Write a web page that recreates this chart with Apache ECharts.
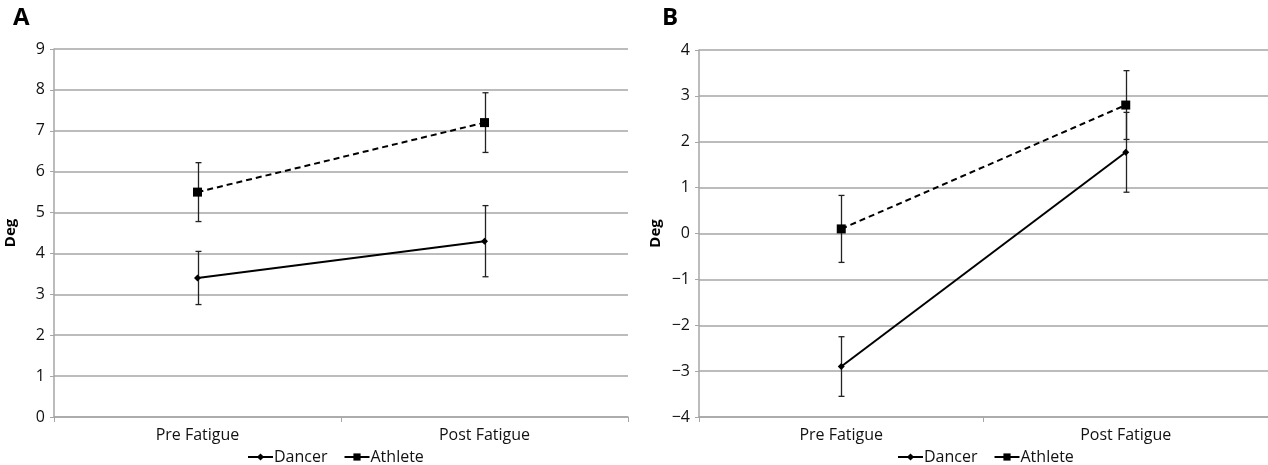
<!DOCTYPE html>
<html>
<head>
<meta charset="utf-8">
<script src="https://cdn.jsdelivr.net/npm/echarts@6/dist/echarts.min.js"></script>
<style>
  html, body { margin: 0; padding: 0; background: #fff; }
  #chart { width: 1268px; height: 465px; }
</style>
</head>
<body>
<div id="chart"></div>
<script>
const categories = ['Pre Fatigue', 'Post Fatigue']

// Panel A
const dancerA = [3.4, 4.3]
const dancerErrA = [0.65, 0.87]
const athleteA = [5.5, 7.2]
const athleteErrA = [0.72, 0.73]

// Panel B
const dancerB = [-2.9, 1.77]
const dancerErrB = [0.65, 0.87]
const athleteB = [0.1, 2.8]
const athleteErrB = [0.73, 0.75]

const font = "'Open Sans', 'Noto Sans', sans-serif"
const gridColor = '#a6a6a6'

function errorData(values, errs) {
  return values.map((v, i) => [i, v - errs[i], v + errs[i]])
}

function errorSeries(values, errs, axisIndex) {
  return {
    type: 'custom',
    xAxisIndex: axisIndex,
    yAxisIndex: axisIndex,
    silent: true,
    z: 3,
    data: errorData(values, errs),
    renderItem(params, api) {
      const lo = api.coord([api.value(0), api.value(1)])
      const hi = api.coord([api.value(0), api.value(2)])
      const x = Math.round(lo[0]) + 0.5
      const cap = 3
      const style = { stroke: '#222', lineWidth: 1.3 }
      return {
        type: 'group',
        children: [
          { type: 'line', shape: { x1: x, y1: hi[1], x2: x, y2: lo[1] }, style },
          { type: 'line', shape: { x1: x - cap, y1: hi[1], x2: x + cap, y2: hi[1] }, style },
          { type: 'line', shape: { x1: x - cap, y1: lo[1], x2: x + cap, y2: lo[1] }, style }
        ]
      }
    }
  }
}

function lineSeries(name, values, axisIndex, dashed) {
  return {
    name,
    type: 'line',
    xAxisIndex: axisIndex,
    yAxisIndex: axisIndex,
    data: values,
    symbol: dashed ? 'rect' : 'diamond',
    symbolSize: dashed ? 9 : 7,
    z: 4,
    animation: false,
    itemStyle: { color: '#000' },
    lineStyle: { color: '#000', width: 2, type: dashed ? [6, 4] : 'solid' }
  }
}

function xAxis(gridIndex) {
  return {
    type: 'category',
    gridIndex,
    data: categories,
    boundaryGap: true,
    axisLine: { onZero: false, lineStyle: { color: gridColor, width: 1.5 } },
    axisTick: { show: true, length: 5, lineStyle: { color: gridColor } },
    axisLabel: { color: '#111', fontFamily: font, fontSize: 16, margin: 10 },
    splitLine: { show: false }
  }
}

function yAxis(gridIndex, min, max) {
  return {
    type: 'value',
    gridIndex,
    min,
    max,
    interval: 1,
    name: 'Deg',
    nameLocation: 'middle',
    nameGap: 36,
    nameTextStyle: { color: '#000', fontFamily: font, fontSize: 15, fontWeight: 'bold' },
    axisLine: { show: true, lineStyle: { color: gridColor, width: 1.5 } },
    axisTick: { show: true, length: 4, lineStyle: { color: gridColor } },
    axisLabel: {
      color: '#111',
      fontFamily: font,
      fontSize: 16,
      margin: 9,
      formatter: v => (v < 0 ? '\u2212' + Math.abs(v) : String(v))
    },
    splitLine: { show: true, lineStyle: { color: gridColor, width: 1.5 } }
  }
}

function legend(left, names) {
  return {
    left,
    top: 444,
    itemWidth: 25,
    itemHeight: 9,
    itemGap: 16,
    lineStyle: { type: 'solid', width: 2 },
    textStyle: { color: '#111', fontFamily: font, fontSize: 16, padding: [0, 0, 0, -4] },
    formatter: n => n.replace(' B', ''),
    data: names.map(name => ({ name }))
  }
}

const chart = echarts.init(document.getElementById('chart'), null, { renderer: 'canvas' })

const titleStyle = { fontFamily: font, fontSize: 24, fontWeight: 'bold', color: '#000' }

chart.setOption({
  backgroundColor: '#fff',
  animation: false,
  title: [
    { text: 'A', left: 8, top: 1, textStyle: titleStyle },
    { text: 'B', left: 657, top: 1, textStyle: titleStyle }
  ],
  grid: [
    { left: 54, top: 49, width: 574, height: 368 },
    { left: 699, top: 50, width: 571, height: 367 }
  ],
  xAxis: [xAxis(0), xAxis(1)],
  yAxis: [yAxis(0, 0, 9), yAxis(1, -4, 4)],
  legend: [
    legend(242, ['Dancer', 'Athlete']),
    legend(892, ['Dancer B', 'Athlete B'])
  ],
  series: [
    errorSeries(dancerA, dancerErrA, 0),
    errorSeries(athleteA, athleteErrA, 0),
    lineSeries('Dancer', dancerA, 0, false),
    lineSeries('Athlete', athleteA, 0, true),
    errorSeries(dancerB, dancerErrB, 1),
    errorSeries(athleteB, athleteErrB, 1),
    lineSeries('Dancer B', dancerB, 1, false),
    lineSeries('Athlete B', athleteB, 1, true)
  ]
})
</script>
</body>
</html>
